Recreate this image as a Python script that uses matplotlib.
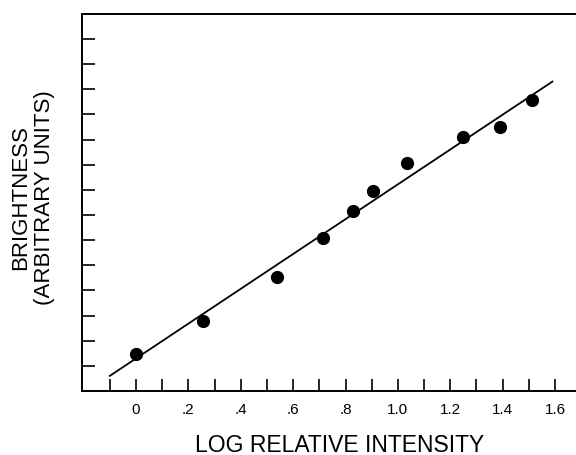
import matplotlib.pyplot as plt

# data
log_intensity = [0.0, 0.256, 0.538, 0.713, 0.828, 0.905, 1.035, 1.248, 1.389, 1.511]
brightness = [1.47, 2.79, 4.54, 6.10, 7.17, 7.97, 9.08, 10.12, 10.52, 11.59]
fit_x = [-0.1, 1.59]
fit_y = [0.60, 12.31]

x_major = [0.0, 0.2, 0.4, 0.6, 0.8, 1.0, 1.2, 1.4, 1.6]
x_labels = ['0', '.2', '.4', '.6', '.8', '1.0', '1.2', '1.4', '1.6']
x_minor = [-0.1, 0.1, 0.3, 0.5, 0.7, 0.9, 1.1, 1.3, 1.5]
y_ticks = list(range(1, 15))

plt.rcParams['font.family'] = ['Liberation Sans', 'DejaVu Sans']

fig = plt.figure(figsize=(5.76, 4.56), dpi=100)
ax = fig.add_axes([0.1424, 0.1404, 0.8576, 0.8268])

ax.plot(fit_x, fit_y, color='black', lw=1.3)
ax.plot(log_intensity, brightness, 'o', color='black', markersize=8.5)

ax.set_xlim(-0.206, 1.68)
ax.set_ylim(0, 15)

ax.spines['right'].set_visible(False)
for s in ['left', 'bottom', 'top']:
    ax.spines[s].set_linewidth(1.4)

ax.set_xticks(x_major)
ax.set_xticklabels(x_labels, fontsize=11)
ax.set_xticks(x_minor, minor=True)
ax.set_yticks(y_ticks)
ax.set_yticklabels([])
ax.tick_params(axis='both', which='both', direction='in', length=9, width=1.2)
ax.tick_params(axis='x', which='major', pad=8)

ax.set_xlabel('LOG RELATIVE INTENSITY', fontsize=16.5, labelpad=12)
ax.set_ylabel('BRIGHTNESS\n(ARBITRARY UNITS)', fontsize=16, labelpad=16, linespacing=1.2)
# labels sit a bit off-centre in the original
ax.xaxis.label.set_x(0.522)
ax.yaxis.label.set_y(0.515)

fig.savefig('out.png', dpi=100)
